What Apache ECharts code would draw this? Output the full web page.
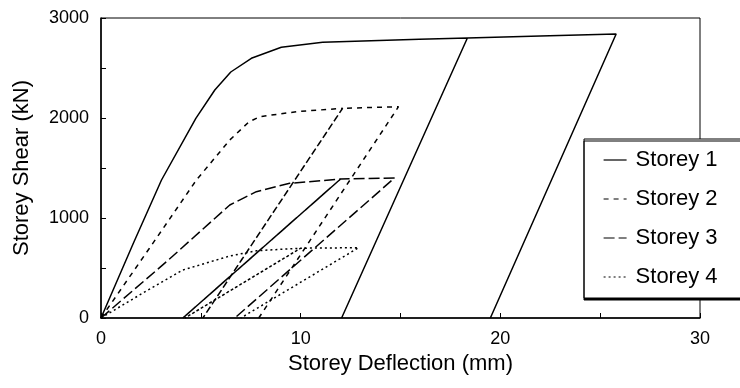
<!DOCTYPE html>
<html>
<head>
<meta charset="utf-8">
<script src="https://cdn.jsdelivr.net/npm/echarts@6/dist/echarts.min.js"></script>
<style>
  html, body { margin: 0; padding: 0; background: #fff; }
  #chart { width: 740px; height: 388px; }
</style>
</head>
<body>
<div id="chart"></div>
<script>
// storey deflection (mm), storey shear (kN) - load, unload, reload, unload
const storey1 = [[0, 0], [1.62, 747], [3.03, 1380], [4.75, 1997], [5.7, 2280], [6.5, 2460], [7.53, 2597],
  [9.03, 2707], [11.1, 2757], [15.95, 2787], [18.35, 2800], [12.05, 0], [18.35, 2800], [22, 2820], [25.8, 2840], [19.5, 0]];
const storey2 = [[0, 0], [2.4, 690], [4.78, 1380], [6.45, 1780], [7.4, 1960], [7.95, 2013], [9.78, 2063],
  [12.1, 2097], [5.1, 0], [12.1, 2097], [14.9, 2113], [7.9, 0]];
const storey3 = [[0, 0], [3.28, 563], [6.45, 1130], [7.78, 1263], [9.45, 1347], [12.0, 1390],
  [4.1, 0], [12.0, 1390], [14.7, 1400], [6.7, 0]];
const storey4 = [[0, 0], [2.1, 250], [4.1, 480], [6.45, 620], [7.8, 673], [10.0, 698],
  [4.2, 0], [10.0, 698], [12.9, 703], [7.0, 0]];
const names = ["Storey 1", "Storey 2", "Storey 3", "Storey 4"];
const xTicks = [0, 10, 20, 30];
const yTicks = [0, 1000, 2000, 3000];

const font = "'Liberation Sans', Arial, sans-serif";
let myChart = echarts.init(document.getElementById("chart"));

function line(name, data, type, width) {
  return {
    name: name,
    type: "line",
    data: data,
    color: "#000",
    showSymbol: false,
    symbol: "none",
    silent: true,
    animation: false,
    itemStyle: { color: "#000" },
    lineStyle: { color: "#000", width: width, type: type }
  };
}

let option = {
  backgroundColor: "#fff",
  grid: {
    left: 101, right: 40, top: 18, bottom: 70,
    show: true, borderColor: "#000", borderWidth: 1
  },
  xAxis: {
    type: "value", min: 0, max: 30, interval: 5,
    name: "Storey Deflection (mm)", nameLocation: "middle", nameGap: 33,
    nameTextStyle: { fontFamily: font, fontSize: 22, color: "#000" },
    axisLine: { lineStyle: { color: "#000", width: 1.5 } },
    axisTick: { inside: true, length: 5, lineStyle: { color: "#000" } },
    axisLabel: {
      fontFamily: font, fontSize: 18, color: "#000", margin: 12,
      formatter: v => xTicks.indexOf(v) >= 0 ? String(v) : ""
    },
    splitLine: { show: false }
  },
  yAxis: {
    type: "value", min: 0, max: 3000, interval: 500,
    name: "Storey Shear (kN)", nameLocation: "middle", nameGap: 68,
    nameTextStyle: { fontFamily: font, fontSize: 22, color: "#000" },
    axisLine: { show: true, lineStyle: { color: "#000", width: 1.5 } },
    axisTick: { show: true, inside: true, length: 5, lineStyle: { color: "#000" } },
    axisLabel: {
      fontFamily: font, fontSize: 18, color: "#000", margin: 12,
      formatter: v => yTicks.indexOf(v) >= 0 ? String(v) : ""
    },
    splitLine: { show: false }
  },
  legend: {
    orient: "vertical",
    left: 584, top: 139,
    padding: [10, 60, 10, 19],
    itemWidth: 23, itemHeight: 16, itemGap: 17,
    backgroundColor: "#fff",
    borderColor: "#000", borderWidth: 1,
    shadowColor: "#000", shadowBlur: 0, shadowOffsetX: 0, shadowOffsetY: 2,
    selectedMode: false,
    itemStyle: { opacity: 0 },
    lineStyle: { width: 1.2 },
    textStyle: { fontFamily: font, fontSize: 22, color: "#000", padding: [0, 0, 0, 4] },
    data: names
  },
  series: [
    line(names[0], storey1, "solid", 1.5),
    line(names[1], storey2, [5, 5], 1.5),
    line(names[2], storey3, [11, 4], 1.5),
    line(names[3], storey4, [2, 3], 1.5)
  ]
};
myChart.setOption(option);
window.onresize = function() {
  myChart.resize();
};
</script>
</body>
</html>
